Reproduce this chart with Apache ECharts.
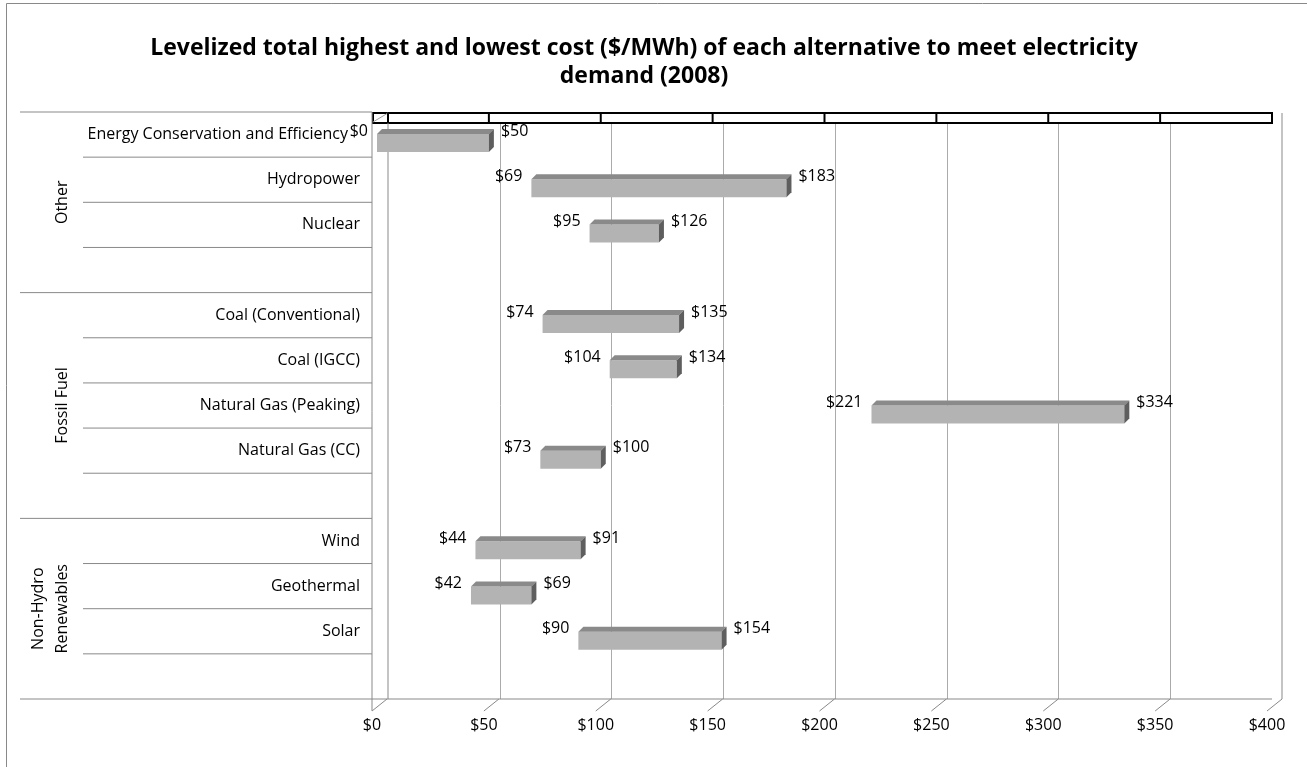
<!DOCTYPE html>
<html>
<head>
<meta charset="utf-8">
<script src="https://cdn.jsdelivr.net/npm/echarts@6/dist/echarts.min.js"></script>
<style>
html,body{margin:0;padding:0;background:#fff;}
#chart{width:1307px;height:767px;}
</style>
</head>
<body>
<div id="chart"></div>
<script>
// ---- data ----
const categories = [
  'Energy Conservation and Efficiency', 'Hydropower', 'Nuclear', ' ',
  'Coal (Conventional)', 'Coal (IGCC)', 'Natural Gas (Peaking)', 'Natural Gas (CC)', '  ',
  'Wind', 'Geothermal', 'Solar', '   '
];
const lowCost  = [0, 69, 95, null, 74, 104, 221, 73, null, 44, 42, 90, null];
const highCost = [50, 183, 126, null, 135, 134, 334, 100, null, 91, 69, 154, null];
const groupNames = ['Other', 'Fossil Fuel', 'Non-Hydro\nRenewables'];
const groupFirst = [0, 4, 9];
const groupLast = [3, 8, 12];
const tickValues = [0, 50, 100, 150, 200, 250, 300, 350, 400];
const titleText = 'Levelized total highest and lowest cost ($/MWh) of each alternative to meet electricity\ndemand (2008)';

// ---- styles ----
const FONT = 'Open Sans';
const LINE = '#898989';
const TXT = '#000';
const FS = 16;

const chart = echarts.init(document.getElementById('chart'), null, {renderer: 'canvas'});

function seg(x1, y1, x2, y2, stroke, w) {
  return {type: 'line', shape: {x1, y1, x2, y2}, style: {stroke: stroke || LINE, lineWidth: w || 1}, silent: true};
}

const barData = categories.map((c, i) => lowCost[i] == null ? null : [i, lowCost[i], highCost[i]]).filter(d => d);
// the first category label sits a little further left so it clears the "$0" label
const categoryItems = categories.map((c, i) => i === 0 ? {value: c, textStyle: {padding: [4, 12, 0, 0]}} : c);

const option = {
  animation: false,
  backgroundColor: '#fff',
  title: {
    text: titleText,
    left: 639, top: 29, textAlign: 'center',
    textStyle: {fontFamily: FONT, fontSize: 23, fontWeight: 'bold', lineHeight: 28, color: TXT}
  },
  graphic: [{
    type: 'rect', shape: {x: 6.5, y: 3.5, width: 1320, height: 790},
    style: {fill: 'none', stroke: LINE, lineWidth: 1}, silent: true, z: -1
  }],
  grid: [
    {left: 388, right: 25, top: 112, bottom: 68},
    {left: 372, right: 40, top: 123, bottom: 56}
  ],
  xAxis: [
    {gridIndex: 0, type: 'value', min: 0, max: 400, interval: 50,
     axisLabel: {show: false}, axisLine: {show: false}, axisTick: {show: false},
     splitLine: {show: true, showMinLine: false, showMaxLine: false, lineStyle: {color: '#ababab', width: 1}}},
    {gridIndex: 1, type: 'value', min: 0, max: 400, interval: 50,
     axisLabel: {formatter: v => '$' + v, margin: 6, fontFamily: FONT, fontSize: FS, color: TXT},
     axisLine: {show: false}, axisTick: {show: false}, splitLine: {show: false}}
  ],
  yAxis: [
    {gridIndex: 0, type: 'category', data: categoryItems, inverse: true,
     axisLabel: {interval: 0, margin: 28, fontFamily: FONT, fontSize: FS, color: TXT, padding: [4, 0, 0, 0]},
     axisLine: {show: false}, axisTick: {show: false}, splitLine: {show: false}},
    {gridIndex: 1, type: 'category', data: categories, inverse: true, show: false}
  ],
  series: [
    // table lines on the left (category separators)
    {
      type: 'custom', xAxisIndex: 0, yAxisIndex: 0, clip: false, silent: true, z: 3,
      data: categories.map((c, i) => [0, i]),
      encode: {x: 0, y: 1},
      renderItem: function (params, api) {
        const i = api.value(1);
        const p = api.coord([0, i]);
        const band = api.size([0, 1])[1];
        const yb = p[1] + band / 2;
        const front = p[0] - 16;
        const cs = params.coordSys;
        const children = [];
        const isGroupEnd = groupLast.indexOf(i) >= 0;
        const lastRow = i === categories.length - 1;
        children.push(seg(isGroupEnd ? 20 : 83, yb, lastRow ? cs.x + cs.width - 10 : front, yb));
        if (i === 0) children.push(seg(20, p[1] - band / 2, front, p[1] - band / 2));
        return {type: 'group', children};
      }
    },
    // group labels
    {
      type: 'custom', xAxisIndex: 0, yAxisIndex: 0, clip: false, silent: true, z: 3,
      data: groupFirst.map((f, k) => [0, f, groupLast[k], k]),
      encode: {x: 0, y: 1},
      renderItem: function (params, api) {
        const band = api.size([0, 1])[1];
        const top = api.coord([0, api.value(1)])[1] - band / 2;
        const bottom = api.coord([0, api.value(2)])[1] + band / 2;
        const name = groupNames[api.value(3)];
        const nLines = name.split('\n').length;
        return {
          type: 'text', x: 62 - (nLines - 1) * 12, y: (top + bottom) / 2, rotation: Math.PI / 2,
          style: {text: name, align: 'center', verticalAlign: 'middle', fill: TXT,
                  font: FS + 'px "' + FONT + '"', lineHeight: 24}
        };
      }
    },
    // 3D frame: walls, floor ticks, top edge
    {
      type: 'custom', xAxisIndex: 1, yAxisIndex: 1, clip: false, silent: true, z: 4,
      data: tickValues.map(v => [v, 0]),
      encode: {x: 0, y: 1},
      renderItem: function (params, api) {
        const v = api.value(0);
        const cs = params.coordSys;
        const x = api.coord([v, 0])[0];
        const yFront = cs.y + cs.height;
        const yTop = cs.y - 11;
        const xEnd = api.coord([tickValues[tickValues.length - 1], 0])[0];
        const children = [];
        children.push(seg(x, yFront, x + 15, yFront - 12));
        if (v === tickValues[0]) {
          children.push({type: 'rect', shape: {x: x + 1, y: yTop + 1, width: xEnd + 5 - (x + 1), height: 10},
                         style: {fill: '#fff', stroke: '#000', lineWidth: 2}});
          children.push(seg(x + 1, cs.y - 1, x + 16, yTop + 1, '#a0a0a0'));
          children.push(seg(x + 16, yTop + 1, x + 16, cs.y - 1, '#000', 2));
          children.push(seg(x, yTop, x, yFront));
          children.push(seg(x + 16, cs.y, x + 16, yFront - 12));
        } else if (v === tickValues[tickValues.length - 1]) {
          children.push(seg(x + 15, yTop + 1, x + 15, yFront - 12));
        } else {
          children.push(seg(x + 5, yTop + 1, x + 5, cs.y - 1, '#000', 2));
        }
        return {type: 'group', children};
      }
    },
    // floating 3D bars with labels
    {
      type: 'custom', xAxisIndex: 1, yAxisIndex: 1, clip: false, z: 5,
      data: barData,
      encode: {y: 0, x: [1, 2]},
      renderItem: function (params, api) {
        const idx = api.value(0), lo = api.value(1), hi = api.value(2);
        const p0 = api.coord([lo, idx]);
        const p1 = api.coord([hi, idx]);
        const d = 5, h = 18;
        const x0 = p0[0] + 5, x1 = p1[0] + 5;
        const cy = p0[1] - 2.5;
        const yT = cy - h / 2, yB = cy + h / 2;
        const font = FS + 'px "' + FONT + '"';
        return {
          type: 'group',
          children: [
            {type: 'rect', shape: {x: x0, y: yT, width: x1 - x0, height: h}, style: {fill: '#b3b3b3'}},
            {type: 'polygon', shape: {points: [[x0, yT], [x1, yT], [x1 + d, yT - d], [x0 + d, yT - d]]}, style: {fill: '#8a8a8a'}},
            {type: 'polygon', shape: {points: [[x1, yT], [x1 + d, yT - d], [x1 + d, yB - d], [x1, yB]]}, style: {fill: '#5e5e5e'}},
            {type: 'text', x: x0 - 9, y: cy - 12,
             style: {text: '$' + lo, align: 'right', verticalAlign: 'middle', fill: TXT, font}},
            {type: 'text', x: x1 + 12, y: cy - 12,
             style: {text: '$' + hi, align: 'left', verticalAlign: 'middle', fill: TXT, font}}
          ]
        };
      }
    }
  ]
};
chart.setOption(option);
</script>
</body>
</html>
